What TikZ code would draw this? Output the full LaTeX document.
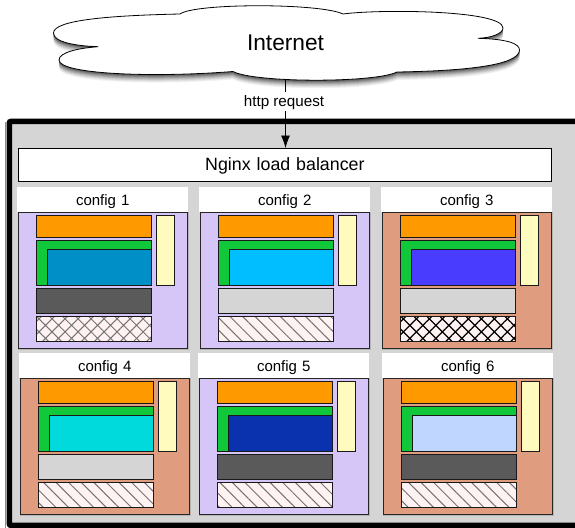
\documentclass[tikz,border=0pt]{standalone}
\usepackage{fontspec}
\setmainfont{Liberation Sans}
\usetikzlibrary{patterns.meta,arrows.meta}
\definecolor{lilac}{HTML}{D6C5F7}
\definecolor{brownish}{HTML}{DF9C7F}
\definecolor{frame}{HTML}{D5D5D5}
\definecolor{orangebar}{HTML}{FF9900}
\definecolor{greenbar}{HTML}{10C83A}
\definecolor{yellowbar}{HTML}{FFFBBF}
\definecolor{darkbar}{HTML}{5A5A5A}
\definecolor{lightbar}{HTML}{D5D5D5}
\definecolor{hatchbg}{HTML}{FFF2F2}
\definecolor{cA}{HTML}{008FC6}
\definecolor{cB}{HTML}{00BEFF}
\definecolor{cC}{HTML}{4A3CFF}
\definecolor{cD}{HTML}{00DADD}
\definecolor{cE}{HTML}{0A32AE}
\definecolor{cF}{HTML}{BFD7FF}
\tikzset{
  x=1pt,y=-1pt,
  bar/.style={draw=black!90,line width=1pt},
  panelbody/.style={draw=black!85,line width=0.9pt},
  header/.style={fill=white,font=\fontsize{15}{15}\selectfont,text width=171pt,align=center,text height=18pt,text depth=7pt,inner sep=0pt},
  hatchone/.style={pattern={Lines[angle=-45,distance=8.9pt,line width=1pt]},pattern color=black!55},
  hatchcross/.style={pattern={Hatch[angle=45,distance=9.2pt,line width=1pt]},pattern color=black!55},
  hatchdark/.style={pattern={Hatch[angle=45,distance=9.2pt,line width=1.2pt]},pattern color=black},
}
\newcommand{\cfgpanel}[8]{%
  % x, y, body colour, inner colour, bar colour, hatch style, label, name
  \path[fill=frame!85!black] (#1+1,#2+25) rectangle (#1+172,#2+163);
  \path[panelbody,fill=#3] (#1+1,#2+25) rectangle (#1+170.5,#2+161);
  \node[header,anchor=north west] (#8) at (#1,#2) {#7};
  \path[bar,fill=orangebar] (#1+19.3,#2+28) rectangle (#1+134,#2+50);
  \path[bar,fill=greenbar] (#1+19.3,#2+53) rectangle (#1+134,#2+98.5);
  \path[bar,fill=#4] (#1+30.8,#2+62) rectangle (#1+134,#2+98.5);
  \path[bar,fill=yellowbar] (#1+139,#2+28) rectangle (#1+157,#2+98);
  \path[bar,fill=#5] (#1+19.3,#2+101.5) rectangle (#1+134,#2+126.5);
  \path[fill=hatchbg] (#1+19.3,#2+129.5) rectangle (#1+134,#2+154);
  \path[#6] (#1+19.3,#2+129.5) rectangle (#1+134,#2+154);
  \path[bar] (#1+19.3,#2+129.5) rectangle (#1+134,#2+154);
}
\newcommand{\cloudat}[1]{(53.5,33+#1)
  .. controls (53.5,20+#1) and (110,15.5+#1) .. (180,14+#1)
  .. controls (195,3+#1) and (320,3+#1) .. (343,14+#1)
  .. controls (380,9+#1) and (503,10+#1) .. (503,28+#1)
  .. controls (503,34+#1) and (490,38+#1) .. (478,38.3+#1)
  .. controls (505,39+#1) and (519.5,43+#1) .. (519.5,50+#1)
  .. controls (519.5,66+#1) and (460,71+#1) .. (397,72+#1)
  .. controls (375,83+#1) and (255,83+#1) .. (233,71.5+#1)
  .. controls (150,78+#1) and (59,74+#1) .. (59,60+#1)
  .. controls (59,52+#1) and (80,48+#1) .. (98.3,46.7+#1)
  .. controls (75,46+#1) and (53.5,42+#1) .. (53.5,33+#1) -- cycle}
\newcommand{\cloudshade}[2]{\path[fill=black!#2] \cloudat{#1};}
\begin{document}
\begin{tikzpicture}
\useasboundingbox (0,0) rectangle (575,527);
\path[fill=white] (0,0) rectangle (575,527);
% cloud shadow
\cloudshade{8}{5}
\cloudshade{7}{11}
\cloudshade{6}{18}
\cloudshade{5}{26}
\cloudshade{4}{35}
\cloudshade{3}{44}
\cloudshade{2}{54}
\cloudshade{1}{64}
\path[draw=black,line width=0.8pt,fill=white] \cloudat{0};
\node[font=\fontsize{22.7}{24}\selectfont,inner sep=0pt,anchor=base] (inet) at (285.5,51) {Internet};
\coordinate (cloudbottom) at (285.5,80);
% server frame
\path[draw=black!45,line width=1pt] (5.2,122) -- (5.2,530);
\path[draw=black,line width=5.6pt,fill=frame,rounded corners=2pt] (9.3,121.3) rectangle (590,525.5);
\node[draw=black,line width=0.8pt,fill=white,text width=533pt,align=center,text height=22.5pt,text depth=10pt,inner sep=0pt,anchor=north west,font=\fontsize{17.8}{18}\selectfont] (lb) at (18,148) {Nginx load balancer};
\draw[line width=0.8pt,-{Latex[length=12.5pt,width=9pt]}] (cloudbottom) -- (lb.north -| cloudbottom);
\node[fill=white,inner sep=0pt,text height=14.5pt,text depth=4pt,anchor=base,font=\fontsize{15.2}{16}\selectfont] (req) at (284,106.7) {http request};
\cfgpanel{17}{187}{lilac}{cA}{darkbar}{hatchcross}{config 1}{p1}
\cfgpanel{199}{187}{lilac}{cB}{lightbar}{hatchone}{config 2}{p2}
\cfgpanel{381}{187}{brownish}{cC}{lightbar}{hatchdark}{config 3}{p3}
\cfgpanel{19}{353}{brownish}{cD}{lightbar}{hatchone}{config 4}{p4}
\cfgpanel{198}{353}{lilac}{cE}{darkbar}{hatchone}{config 5}{p5}
\cfgpanel{382}{353}{brownish}{cF}{darkbar}{hatchone}{config 6}{p6}
\end{tikzpicture}
\end{document}
